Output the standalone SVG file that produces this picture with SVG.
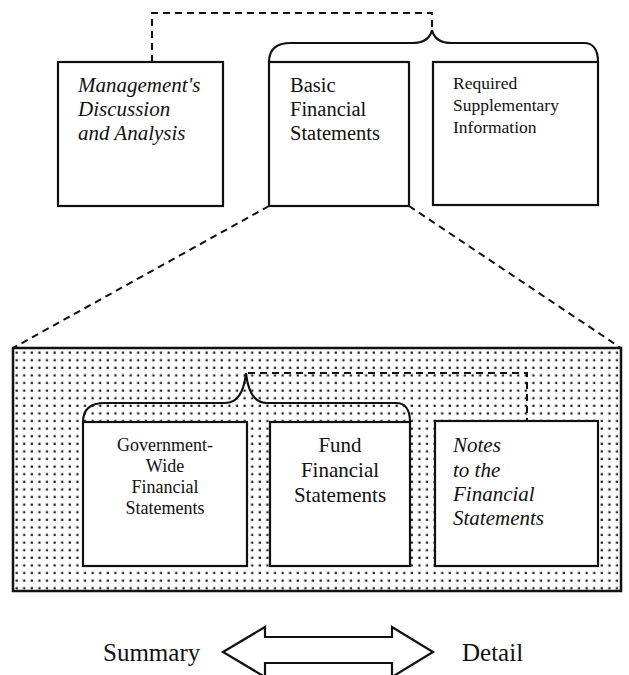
<svg xmlns="http://www.w3.org/2000/svg" width="629" height="675" viewBox="0 0 629 675">
<style>
.box{fill:#fff;stroke:#111;stroke-width:2.2}
.dash{fill:none;stroke:#111;stroke-width:2;stroke-dasharray:7 5}
.brace{fill:none;stroke:#111;stroke-width:2.2}
text, tspan{font-family:"Liberation Serif","Times New Roman",serif;fill:#111}
.it{font-style:italic}
</style>
<defs>
<pattern id="dots" x="13" y="349" width="7.6" height="7.6" patternUnits="userSpaceOnUse">
<rect x="2.5" y="2.5" width="2.2" height="2.2" fill="#1a1a1a"/>
</pattern>
</defs>
<g id="connectors">
<path class="dash" d="M152,62 L152,13 L432,13 L432,28"/>
<path class="dash" d="M269,206 L13,348"/>
<path class="dash" d="M409,206 L621,348"/>
</g>
<g id="detail-panel">
<rect x="13" y="348" width="608" height="243" fill="url(#dots)" stroke="#111" stroke-width="2.5"/>
</g>
<g id="top-brace">
<path class="brace" d="M269,62 C269,49 277,43 291,43 L412,43 C424,43 430,39 432,30 C434,39 440,43 452,43 L584,43 C593,43 598,50 598,62"/>
</g>
<g id="mda">
<rect class="box" x="58" y="62" width="165" height="144"/>
<text class="it" font-family="Liberation Serif, serif" font-size="21"><tspan x="78" y="92">Management's</tspan><tspan x="78" y="116">Discussion</tspan><tspan x="78" y="140">and Analysis</tspan></text>
</g>
<g id="basic">
<rect class="box" x="269" y="62" width="140" height="144"/>
<text font-family="Liberation Serif, serif" font-size="20.5"><tspan x="290" y="92">Basic</tspan><tspan x="290" y="116">Financial</tspan><tspan x="290" y="140">Statements</tspan></text>
</g>
<g id="rsi">
<rect class="box" x="433" y="62" width="165" height="143"/>
<text font-family="Liberation Serif, serif" font-size="17.5"><tspan x="453" y="89">Required</tspan><tspan x="453" y="111">Supplementary</tspan><tspan x="453" y="133">Information</tspan></text>
</g>
<g id="inner-connectors">
<path class="brace" d="M83,422 C83,409 91,403 105,403 L225,403 C238,403 244,392 246,373 C248,392 254,403 267,403 L396,403 C405,403 410,410 410,422"/>
<path class="dash" d="M248,373 L527,373 L527,421"/>
</g>
<g id="govwide">
<rect class="box" x="83" y="422" width="164" height="144"/>
<text font-family="Liberation Serif, serif" font-size="18" text-anchor="middle"><tspan x="165" y="451">Government-</tspan><tspan x="165" y="472">Wide</tspan><tspan x="165" y="493">Financial</tspan><tspan x="165" y="514">Statements</tspan></text>
</g>
<g id="fund">
<rect class="box" x="270" y="422" width="140" height="144"/>
<text font-family="Liberation Serif, serif" font-size="21" text-anchor="middle"><tspan x="340" y="452">Fund</tspan><tspan x="340" y="477">Financial</tspan><tspan x="340" y="502">Statements</tspan></text>
</g>
<g id="notes">
<rect class="box" x="435" y="421" width="163" height="145"/>
<text class="it" font-family="Liberation Serif, serif" font-size="21"><tspan x="453" y="452">Notes</tspan><tspan x="453" y="477">to the</tspan><tspan x="453" y="501">Financial</tspan><tspan x="453" y="525">Statements</tspan></text>
</g>
<g id="scale">
<path d="M223,652 L265,627 L265,637 L392,637 L392,627 L433,652 L392,677 L392,663 L265,663 L265,677 Z" fill="#fff" stroke="#111" stroke-width="2.2" stroke-linejoin="miter"/>
<text font-family="Liberation Serif, serif" font-size="25" x="103" y="661">Summary</text>
<text font-family="Liberation Serif, serif" font-size="25" x="462" y="661">Detail</text>
</g>
</svg>
